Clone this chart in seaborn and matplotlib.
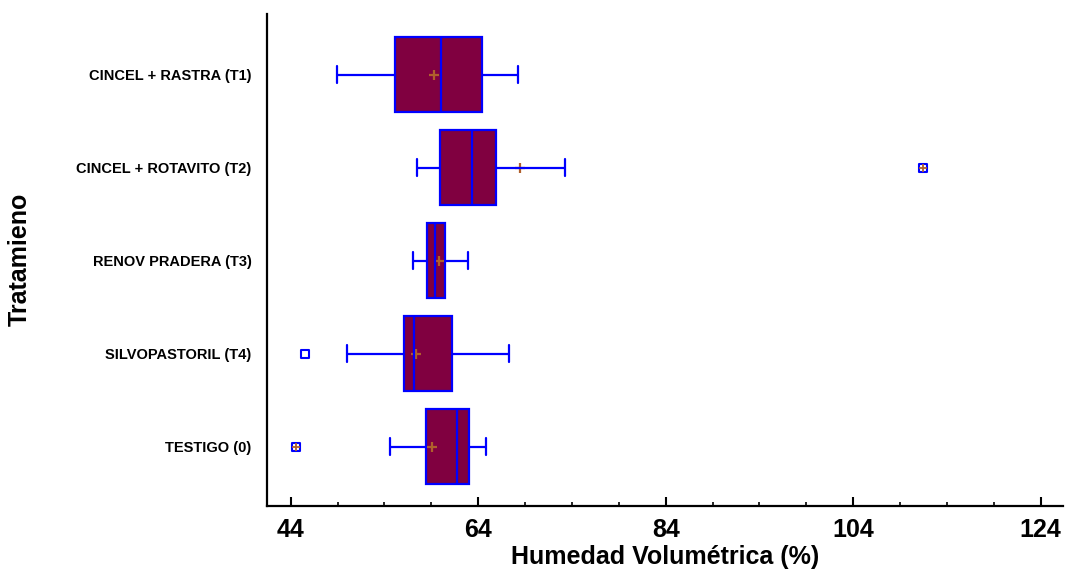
import numpy as np
import pandas as pd
import matplotlib
matplotlib.use("Agg")
import matplotlib.pyplot as plt
from matplotlib.ticker import FixedLocator
import seaborn as sns

# Treatments (top to bottom)
categories = [
    "CINCEL + RASTRA (T1)",
    "CINCEL + ROTAVITO (T2)",
    "RENOV PRADERA (T3)",
    "SILVOPASTORIL (T4)",
    "TESTIGO (0)",
]

# Five-number summary of volumetric moisture (%) per treatment
whisker_low = [48.9, 57.5, 57.0, 50.0, 54.6]
quartile_1 = [55.1, 59.9, 58.5, 56.1, 58.4]
median = [60.0, 63.3, 59.4, 57.2, 61.7]
quartile_3 = [64.4, 65.9, 60.5, 61.2, 63.0]
whisker_high = [68.3, 73.3, 62.9, 67.3, 64.8]

# Group means
means = [59.3, 68.5, 59.8, 57.4, 59.1]

# Points outside the whiskers (far outliers are flagged with a cross)
outlier_group = ["CINCEL + ROTAVITO (T2)", "SILVOPASTORIL (T4)", "TESTIGO (0)"]
outlier_value = [111.4, 45.5, 44.6]
outlier_far = [True, False, True]

x_ticks = [44, 64, 84, 104, 124]
x_minor_step = 5

BOX_FILL = "#800040"
LINE_BLUE = "#0000ff"
MEAN_COLOR = "#b0602c"

sns.set_style("ticks")
plt.rcParams["font.family"] = ["Liberation Sans", "DejaVu Sans"]
plt.rcParams["font.weight"] = "bold"
plt.rcParams["text.color"] = "black"
plt.rcParams["axes.labelcolor"] = "black"
plt.rcParams["xtick.color"] = "black"
plt.rcParams["ytick.color"] = "black"

summary = pd.DataFrame({
    "Tratamiento": np.repeat(categories, 5),
    "Humedad": np.column_stack(
        [whisker_low, quartile_1, median, quartile_3, whisker_high]
    ).ravel(),
})
mean_df = pd.DataFrame({"Tratamiento": categories, "Humedad": means})
out_df = pd.DataFrame({"Tratamiento": outlier_group, "Humedad": outlier_value,
                       "far": outlier_far})

fig = plt.figure(figsize=(10.67, 5.76), dpi=100)
ax = fig.add_axes([0.25, 0.122, 0.746, 0.854])

sns.boxplot(
    data=summary, x="Humedad", y="Tratamiento", order=categories,
    orient="h", whis=(0, 100), width=0.8, saturation=1,
    color=BOX_FILL, linecolor=LINE_BLUE, linewidth=1.6,
    showfliers=False, capwidths=0.18, ax=ax,
)
for ln in ax.lines:
    ln.set_zorder(3)

# Mean markers
sns.stripplot(
    data=mean_df, x="Humedad", y="Tratamiento", order=categories,
    orient="h", jitter=False, marker="+", size=7, linewidth=1.6,
    color=MEAN_COLOR, edgecolor=MEAN_COLOR, zorder=2.5, ax=ax,
)

# Outlying points
sns.stripplot(
    data=out_df, x="Humedad", y="Tratamiento", order=categories,
    orient="h", jitter=False, marker="s", size=6, linewidth=1.5,
    color="white", edgecolor=LINE_BLUE, zorder=4, ax=ax,
)
sns.stripplot(
    data=out_df[out_df["far"]], x="Humedad", y="Tratamiento", order=categories,
    orient="h", jitter=False, marker="+", size=6, linewidth=1.3,
    color=MEAN_COLOR, edgecolor=MEAN_COLOR, zorder=5, ax=ax,
)

ax.set_xlim(41.45, 126.35)
ax.set_ylim(4.635, -0.654)
ax.set_xticks(x_ticks)
minor = [v for v in np.arange(x_ticks[0], x_ticks[-1] + 1, x_minor_step)
         if v not in x_ticks]
ax.xaxis.set_minor_locator(FixedLocator(minor))
ax.tick_params(axis="x", which="major", direction="in", length=6.5, width=1.5,
               labelsize=18, pad=9, colors="black")
ax.tick_params(axis="x", which="minor", direction="in", length=3, width=1.2,
               colors="black")
ax.tick_params(axis="y", length=0, pad=11, labelsize=10.5, colors="black")
for lab in ax.get_xticklabels() + ax.get_yticklabels():
    lab.set_fontweight("bold")

for side in ("top", "right"):
    ax.spines[side].set_visible(False)
for side in ("left", "bottom"):
    ax.spines[side].set_linewidth(1.6)
    ax.spines[side].set_color("black")

ax.set_xlabel("Humedad Volumétrica (%)", fontsize=18, fontweight="bold",
              labelpad=2, color="black")
ax.set_ylabel("Tratamieno", fontsize=18, fontweight="bold", color="black")
ax.yaxis.set_label_coords(-0.295, 0.5)

fig.savefig("out.png", dpi=100)
